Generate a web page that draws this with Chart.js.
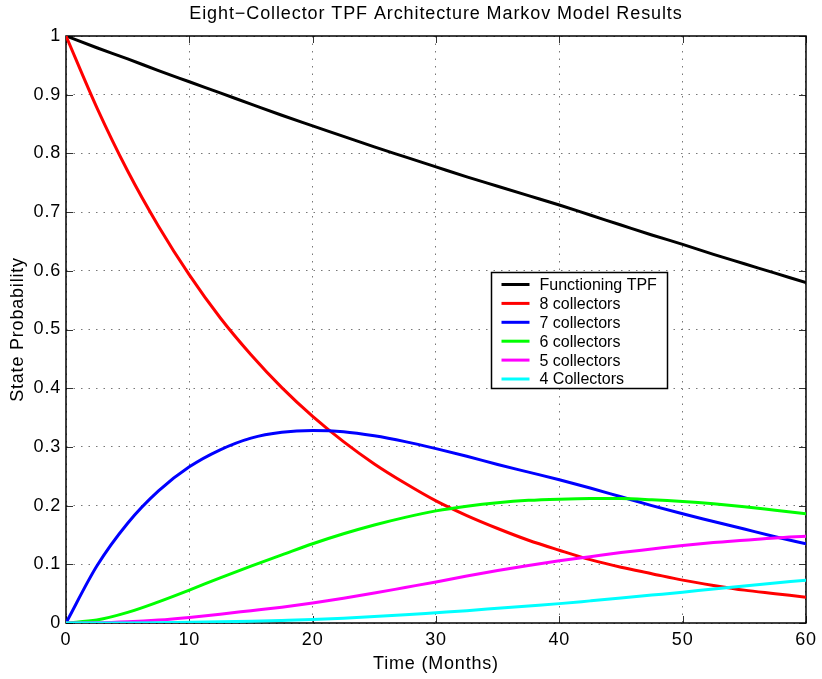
<!DOCTYPE html>
<html>
<head>
<meta charset="utf-8">
<script src="https://cdn.jsdelivr.net/npm/chart.js@4"></script>
<style>
  body { margin: 0; background: #fff; }
  canvas { display: block; }
</style>
</head>
<body>
<canvas id="markovChart" width="822" height="679"></canvas>
<script>
// Valores (probabilidad de estado vs. meses)
const months = [0, 2.5, 5, 7.5, 10, 12.5, 15, 17.5, 20, 22.5, 25, 27.5, 30,
    32.5, 35, 37.5, 40, 42.5, 45, 47.5, 50, 52.5, 55, 57.5, 60];

const functioningTPF = [1, 0.980, 0.961, 0.941, 0.922, 0.903, 0.884, 0.865, 0.847, 0.829, 0.811, 0.794, 0.777,
    0.760, 0.744, 0.728, 0.712, 0.695, 0.678, 0.661, 0.645, 0.628, 0.612, 0.596, 0.580];
const collectors8 = [1, 0.878, 0.770, 0.676, 0.593, 0.520, 0.457, 0.401, 0.352, 0.309, 0.271, 0.238, 0.208,
    0.183, 0.161, 0.141, 0.124, 0.108, 0.095, 0.084, 0.073, 0.064, 0.056, 0.050, 0.044];
const collectors7 = [0, 0.097, 0.170, 0.225, 0.266, 0.295, 0.315, 0.325, 0.328, 0.326, 0.319, 0.309, 0.297,
    0.284, 0.270, 0.257, 0.244, 0.230, 0.215, 0.200, 0.186, 0.173, 0.160, 0.147, 0.135];
const collectors6 = [0, 0.005, 0.018, 0.036, 0.056, 0.077, 0.097, 0.116, 0.135, 0.152, 0.167, 0.180, 0.191,
    0.199, 0.205, 0.209, 0.211, 0.212, 0.212, 0.210, 0.207, 0.203, 0.198, 0.192, 0.186];
const collectors5 = [0, 0.0003, 0.002, 0.005, 0.0095, 0.015, 0.021, 0.027, 0.034, 0.042, 0.051, 0.0605, 0.070,
    0.080, 0.0895, 0.098, 0.106, 0.113, 0.120, 0.126, 0.132, 0.137, 0.141, 0.145, 0.148];
const collectors4 = [0, 0, 0.0002, 0.0006, 0.0012, 0.002, 0.003, 0.0044, 0.006, 0.0083, 0.011, 0.014, 0.0175,
    0.021, 0.025, 0.029, 0.033, 0.0377, 0.0425, 0.0475, 0.0525, 0.058, 0.063, 0.068, 0.073];

const seriesLabels = ['Functioning TPF', '8 collectors', '7 collectors', '6 collectors', '5 collectors', '4 Collectors'];
const seriesColors = ['#000000', '#ff0000', '#0000ff', '#00ff00', '#ff00ff', '#00ffff'];
const seriesValues = [functioningTPF, collectors8, collectors7, collectors6, collectors5, collectors4];

const xTicks = [0, 10, 20, 30, 40, 50, 60];
const yTicks = [0, 0.1, 0.2, 0.3, 0.4, 0.5, 0.6, 0.7, 0.8, 0.9, 1];
const yTickLabels = ['0', '0.1', '0.2', '0.3', '0.4', '0.5', '0.6', '0.7', '0.8', '0.9', '1'];

const chartTitle = 'Eight\u2212Collector TPF Architecture Markov Model Results';
const FONT = '"Liberation Sans", Arial, Helvetica, sans-serif';

// caja de ejes, marcas interiores y título al estilo MATLAB
const matlabAxes = {
    id: 'matlabAxes',
    beforeDraw(chart) {
        // el texto de MATLAB sale algo más espaciado
        chart.ctx.letterSpacing = '0.8px';
    },
    beforeDatasetsDraw(chart) {
        const { ctx, chartArea: a, scales } = chart;
        ctx.save();
        ctx.strokeStyle = '#333';
        ctx.lineWidth = 1;
        ctx.beginPath();
        xTicks.forEach(v => {
            const px = Math.round(scales.x.getPixelForValue(v)) + 0.5;
            ctx.moveTo(px, a.bottom); ctx.lineTo(px, a.bottom - 7);
            ctx.moveTo(px, a.top); ctx.lineTo(px, a.top + 7);
        });
        yTicks.forEach(v => {
            const py = Math.round(scales.y.getPixelForValue(v)) + 0.5;
            ctx.moveTo(a.left, py); ctx.lineTo(a.left + 7, py);
            ctx.moveTo(a.right, py); ctx.lineTo(a.right - 7, py);
        });
        ctx.stroke();
        ctx.strokeStyle = '#000';
        ctx.lineWidth = 1.5;
        ctx.strokeRect(a.left, a.top, a.right - a.left, a.bottom - a.top);
        ctx.restore();
    },
    afterDraw(chart) {
        const { ctx, chartArea: a, data } = chart;
        ctx.save();
        ctx.fillStyle = '#000';
        ctx.letterSpacing = '0.9px';
        ctx.font = '18px ' + FONT;
        ctx.textAlign = 'center';
        ctx.textBaseline = 'middle';
        ctx.fillText(chartTitle, (a.left + a.right) / 2, 14);

        // leyenda dentro del área de trazado
        const lx = 491.5, ly = 272.5, lw = 176, lh = 116;
        ctx.fillStyle = '#fff';
        ctx.fillRect(lx, ly, lw, lh);
        ctx.strokeStyle = '#000';
        ctx.lineWidth = 1.5;
        ctx.strokeRect(lx, ly, lw, lh);
        ctx.letterSpacing = '0px';
        ctx.font = '16px ' + FONT;
        ctx.textAlign = 'left';
        data.datasets.forEach((ds, i) => {
            const y = ly + 12 + i * 18.9;
            ctx.strokeStyle = ds.borderColor;
            ctx.lineWidth = 3;
            ctx.beginPath();
            ctx.moveTo(lx + 10, y);
            ctx.lineTo(lx + 38, y);
            ctx.stroke();
            ctx.fillStyle = '#000';
            ctx.fillText(ds.label, lx + 48, y + 1);
        });
        ctx.restore();
    }
};

const ctx = document.getElementById('markovChart').getContext('2d');
new Chart(ctx, {
    type: 'line',
    data: {
        datasets: seriesValues.map((vals, i) => ({
            label: seriesLabels[i],
            data: months.map((m, j) => ({ x: m, y: vals[j] })),
            borderColor: seriesColors[i],
            borderWidth: 3,
            pointRadius: 0,
            fill: false,
            cubicInterpolationMode: 'monotone',
            order: seriesValues.length - i
        }))
    },
    options: {
        responsive: false,
        animation: false,
        layout: { padding: { top: 36, right: 13, left: 0, bottom: 0 } },
        plugins: {
            legend: { display: false },
            title: { display: false },
            tooltip: { enabled: false }
        },
        scales: {
            x: {
                type: 'linear',
                min: 0,
                max: 60,
                afterBuildTicks: s => { s.ticks = xTicks.map(v => ({ value: v })); },
                afterFit: s => { s.height = 56; },
                ticks: {
                    color: '#000',
                    padding: 6,
                    maxRotation: 0,
                    font: { family: FONT, size: 18 },
                    callback: v => String(v)
                },
                grid: { color: '#777', lineWidth: 1, drawTicks: false },
                border: { display: false, dash: [1.5, 6] },
                title: {
                    display: true,
                    text: 'Time (Months)',
                    color: '#000',
                    font: { family: FONT, size: 18 },
                    padding: { top: 0, bottom: 4 }
                }
            },
            y: {
                min: 0,
                max: 1,
                afterBuildTicks: s => { s.ticks = yTicks.map(v => ({ value: v })); },
                afterFit: s => { s.width = 66; },
                ticks: {
                    color: '#000',
                    padding: 5,
                    font: { family: FONT, size: 18 },
                    callback: (v, i) => yTickLabels[i]
                },
                grid: { color: '#777', lineWidth: 1, drawTicks: false },
                border: { display: false, dash: [1.5, 6] },
                title: {
                    display: true,
                    text: 'State Probability',
                    color: '#000',
                    font: { family: FONT, size: 18 },
                    padding: { top: 7, bottom: 0 }
                }
            }
        }
    },
    plugins: [matlabAxes]
});
</script>
</body>
</html>
